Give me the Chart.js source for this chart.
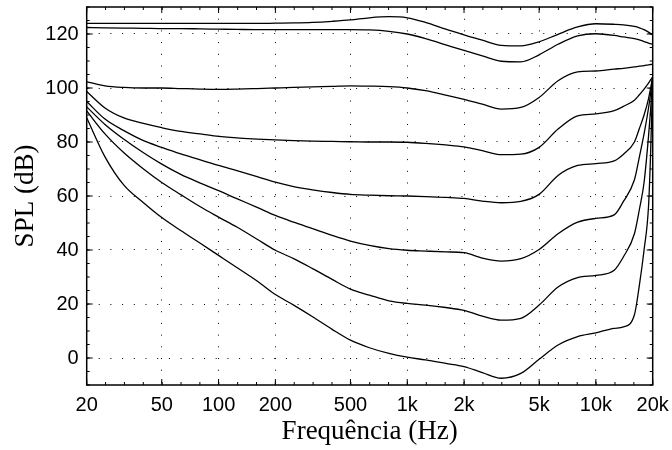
<!DOCTYPE html>
<html>
<head>
<meta charset="utf-8">
<script src="https://cdn.jsdelivr.net/npm/chart.js@4.4.1/dist/chart.umd.min.js"></script>
<style>
  html, body { margin: 0; padding: 0; background: #fff; }
  #wrap { width: 672px; height: 450px; }
</style>
</head>
<body>
<div id="wrap"><canvas id="chart" width="672" height="450"></canvas></div>
<script>
// curvas de igual audibilidade (Hz / dB SPL)
const freqs = [20, 25, 31.5, 40, 50, 63, 80, 100, 125, 160, 200, 250, 315, 400, 500, 630, 800,
  1000, 1250, 1600, 2000, 2500, 3150, 4000, 5000, 6300, 8000, 10000, 12500, 14000, 16000,
  17000, 18000, 19000, 19500, 20000];

const curveTop = [123.9, 123.9, 123.9, 123.9, 123.9, 123.9, 123.9, 123.9, 123.9, 123.9,
  124, 124.1, 124.3, 124.7, 125.2, 126, 126.4, 126, 124.3, 121.8,
  119.7, 117.7, 115.8, 115.6, 117.1, 119.9, 122.6, 123.8, 123.6, 123.4,
  122.8, 122.3, 121.6, 120.7, 120.2, 119.7];
const curve120 = [122.4, 122.3, 122.2, 122.1, 122, 122, 121.9, 121.8, 121.7, 121.6,
  121.6, 121.6, 121.6, 121.6, 121.6, 121.5, 121, 120, 118.3, 116,
  113.9, 111.9, 109.9, 109.7, 112.3, 116.2, 119.3, 120.1, 119.5, 118.9,
  118.3, 117.8, 117.2, 116.6, 116.4, 116.2];
const curve100 = [102.3, 100.8, 100.2, 100, 100, 99.8, 99.6, 99.5, 99.6, 99.8,
  100, 100.2, 100.4, 100.6, 100.8, 100.7, 100.5, 100, 99, 97.4,
  95.8, 94, 92.2, 92.8, 96.5, 102.7, 106, 106.3, 107, 107.3,
  107.8, 108.1, 108.3, 108.6, 108.7, 108.8];
const curve80 = [98.7, 92.6, 88.9, 86.9, 85.3, 83.9, 83, 82.1, 81.5, 81.1,
  80.8, 80.5, 80.3, 80.2, 80.1, 80, 80, 79.9, 79.5, 78.9,
  78.2, 76.8, 75.3, 75.5, 78, 84.8, 89.7, 90.4, 91.6, 93.2,
  95.5, 97.5, 99.6, 101.8, 103, 104.1];
const curve60 = [95, 88.5, 84.2, 80.5, 78, 75.6, 73.4, 71.3, 69.4, 67.2,
  65.1, 63.5, 62.3, 61.3, 60.6, 60.3, 60.1, 60, 59.8, 59.5,
  59.1, 58.1, 57.5, 58, 60.6, 67.6, 71.3, 72, 73, 75.5,
  80, 85, 90, 96, 100, 104.1];
const curve40 = [93, 86.5, 81, 76, 71.8, 68, 64.8, 62, 59, 55.8,
  52.8, 50.3, 47.9, 45.4, 43.3, 41.7, 40.5, 39.9, 39.6, 39.3,
  39, 37, 35.9, 36.8, 40.2, 46, 50.3, 51.7, 53, 58,
  66, 74.5, 83, 92.5, 98, 104.1];
const curve20 = [91.5, 83, 76, 70, 65, 60.5, 56, 52.2, 48.5, 44,
  39.9, 36.8, 33.1, 29.1, 25.5, 23.3, 21.2, 20.2, 19.6, 18.7,
  17.6, 15.5, 14, 14.7, 19.6, 26.3, 29.8, 30.6, 32.5, 37.5,
  46, 55, 65, 82, 92, 104.1];
const curve0 = [89, 74.5, 64, 57.5, 52, 47.2, 42.5, 38, 33.5, 28.5,
  23.5, 19.6, 15.3, 10.6, 6.6, 3.8, 1.7, 0.3, -0.7, -2,
  -3.2, -5.4, -7.5, -5.7, -0.5, 4.8, 7.9, 9.3, 11, 11.5,
  16, 27, 40, 56, 76, 104.1];

const curves = [curveTop, curve120, curve100, curve80, curve60, curve40, curve20, curve0];

const xTickValues = [20, 50, 100, 200, 500, 1000, 2000, 5000, 10000, 20000];
const yTickValues = [0, 20, 40, 60, 80, 100, 120];

const tickFont = { family: '"Liberation Sans", Arial, sans-serif', size: 20 };
const titleFont = { family: '"Liberation Serif", "Times New Roman", serif', size: 27 };

// moldura fechada + marcas de escala para dentro (principais e secundarias)
const framePlugin = {
  id: 'frame',
  afterDraw(chart) {
    const { ctx, chartArea: a, scales: { x, y } } = chart;
    ctx.save();
    ctx.strokeStyle = '#000';
    ctx.lineWidth = 1;
    ctx.beginPath();
    for (let k = 0; k <= 30; k++) {
      const px = x.getPixelForValue(20 * Math.pow(10, k / 10));
      ctx.moveTo(px, a.bottom); ctx.lineTo(px, a.bottom - 3);
      ctx.moveTo(px, a.top); ctx.lineTo(px, a.top + 3);
    }
    xTickValues.forEach(v => {
      const px = x.getPixelForValue(v);
      ctx.moveTo(px, a.bottom); ctx.lineTo(px, a.bottom - 6);
      ctx.moveTo(px, a.top); ctx.lineTo(px, a.top + 6);
    });
    for (let v = -10; v <= 130; v += 5) {
      const py = y.getPixelForValue(v);
      ctx.moveTo(a.left, py); ctx.lineTo(a.left + 3, py);
      ctx.moveTo(a.right, py); ctx.lineTo(a.right - 3, py);
    }
    yTickValues.forEach(v => {
      const py = y.getPixelForValue(v);
      ctx.moveTo(a.left, py); ctx.lineTo(a.left + 6, py);
      ctx.moveTo(a.right, py); ctx.lineTo(a.right - 6, py);
    });
    ctx.stroke();
    ctx.lineWidth = 1.5;
    ctx.strokeRect(a.left, a.top, a.width, a.height);
    ctx.restore();
  }
};

const datasets = curves.map(c => ({
  data: freqs.map((f, i) => ({ x: f, y: c[i] })),
  borderColor: '#000',
  borderWidth: 1.3,
  pointRadius: 0,
  fill: false,
  cubicInterpolationMode: 'monotone'
}));

new Chart(document.getElementById('chart'), {
  type: 'line',
  data: { datasets: datasets },
  plugins: [framePlugin],
  options: {
    responsive: false,
    animation: false,
    devicePixelRatio: 1,
    layout: { padding: { top: 7, right: 19.3, left: 0, bottom: 0 } },
    plugins: { legend: { display: false }, tooltip: { enabled: false } },
    scales: {
      x: {
        type: 'logarithmic',
        min: 20,
        max: 20000,
        afterBuildTicks: s => { s.ticks = xTickValues.map(v => ({ value: v })); },
        afterFit: s => { s.height = 65; s.paddingLeft = 0; s.paddingRight = 0; },
        ticks: {
          autoSkip: false,
          maxRotation: 0,
          padding: 8,
          color: '#000',
          font: tickFont,
          callback: v => (v >= 1000 ? (v / 1000) + 'k' : String(v))
        },
        grid: {
          drawTicks: false,
          lineWidth: 1,
          color: c => (c.tick && (c.tick.value === 20 || c.tick.value === 20000)) ? 'rgba(0,0,0,0)' : '#000'
        },
        border: { display: false, dash: [1, 10.7] },
        title: {
          display: true,
          text: 'Frequência (Hz)',
          color: '#000',
          font: titleFont,
          padding: { top: 0, bottom: 2 }
        }
      },
      y: {
        min: -10,
        max: 130,
        afterBuildTicks: s => { s.ticks = yTickValues.map(v => ({ value: v })); },
        afterFit: s => { s.width = 86.7; s.paddingTop = 0; s.paddingBottom = 0; },
        ticks: { padding: 8, color: '#000', font: tickFont },
        grid: { drawTicks: false, lineWidth: 1, color: '#000' },
        border: { display: false, dash: [1, 10.7] },
        title: {
          display: true,
          text: 'SPL (dB)',
          color: '#000',
          font: titleFont,
          padding: { top: 10, bottom: 0 }
        }
      }
    }
  }
});
</script>
</body>
</html>
